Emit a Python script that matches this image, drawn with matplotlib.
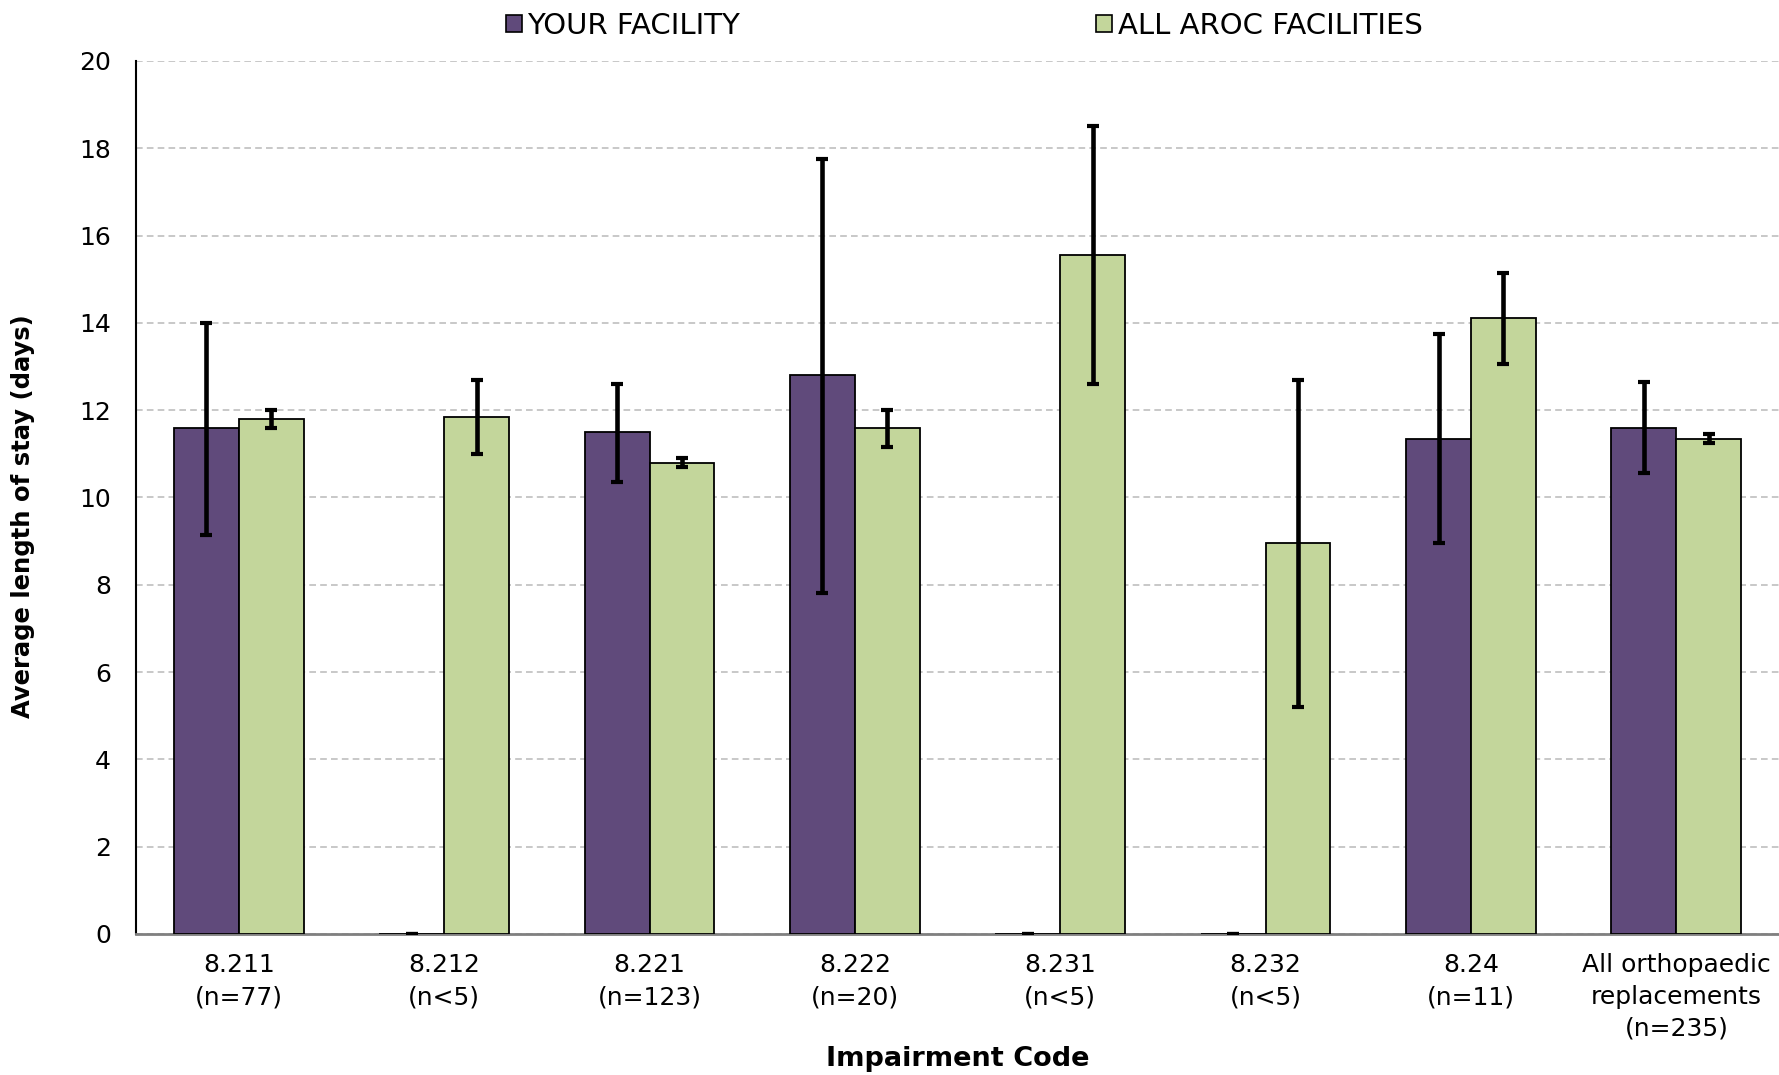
import numpy as np
import matplotlib
matplotlib.use('Agg')
import matplotlib.pyplot as plt
from matplotlib.patches import Patch

# ===== Data =====
categories = ['8.211\n(n=77)', '8.212\n(n<5)', '8.221\n(n=123)', '8.222\n(n=20)',
              '8.231\n(n<5)', '8.232\n(n<5)', '8.24\n(n=11)',
              'All orthopaedic\nreplacements\n(n=235)']

facility_mean = [11.6, 0.0, 11.5, 12.8, 0.0, 0.0, 11.35, 11.6]
facility_lo = [9.15, 0.0, 10.35, 7.8, 0.0, 0.0, 8.95, 10.55]
facility_hi = [14.0, 0.0, 12.6, 17.75, 0.0, 0.0, 13.75, 12.65]

aroc_mean = [11.8, 11.85, 10.8, 11.6, 15.55, 8.95, 14.1, 11.35]
aroc_lo = [11.6, 11.0, 10.7, 11.15, 12.6, 5.2, 13.05, 11.25]
aroc_hi = [12.0, 12.7, 10.9, 12.0, 18.5, 12.7, 15.15, 11.45]

C_FAC = '#604A7B'
C_AROC = '#C3D69B'
W = 0.316

FONT = ['DejaVu Sans']

fig = plt.figure(figsize=(17.79, 10.75), dpi=100)
ax = fig.add_axes([0.0765, 0.1312, 0.9235, 0.8121])

x = np.arange(len(categories))
fac = np.array(facility_mean)
aroc = np.array(aroc_mean)
fac_err = [fac - np.array(facility_lo), np.array(facility_hi) - fac]
aroc_err = [aroc - np.array(aroc_lo), np.array(aroc_hi) - aroc]

ax.bar(x - W / 2, fac, width=W, color=C_FAC, edgecolor='black', linewidth=1.3, zorder=3)
ax.bar(x + W / 2, aroc, width=W, color=C_AROC, edgecolor='black', linewidth=1.3, zorder=3)

ekw = dict(fmt='none', ecolor='black', elinewidth=3.3, capsize=4.3, capthick=3.0, zorder=4)
ax.errorbar(x - W / 2, fac, yerr=fac_err, **ekw)
ax.errorbar(x + W / 2, aroc, yerr=aroc_err, **ekw)

ax.set_xlim(-0.5, len(categories) - 0.5)
ax.set_ylim(0, 20)
ax.set_yticks(np.arange(0, 21, 2))
ax.set_xticks(x)
ax.set_xticklabels(categories, fontsize=18, family=FONT, linespacing=1.4)
for lbl in ax.get_yticklabels():
    lbl.set_fontsize(18)
    lbl.set_family(FONT)
ax.tick_params(axis='y', length=0, pad=18)
ax.tick_params(axis='x', length=0, pad=14)

ax.grid(True, axis='y', color='#BFBFBF', ls=(0, (4, 2.5)), lw=1.2, zorder=0)
ax.set_axisbelow(True)
for s in ['top', 'right']:
    ax.spines[s].set_visible(False)
ax.spines['left'].set_color('black')
ax.spines['left'].set_linewidth(1.5)
ax.spines['bottom'].set_color('#808080')
ax.spines['bottom'].set_linewidth(2)

ax.set_ylabel('Average length of stay (days)', fontsize=17.5, fontweight='bold', family=FONT)
ax.yaxis.set_label_coords(-0.0688, 0.479)
ax.yaxis.label.set_va('center')
ax.set_xlabel('Impairment Code', fontsize=19.5, fontweight='bold', family=FONT)
ax.xaxis.set_label_coords(0.5, -0.143)
ax.xaxis.label.set_va('center')

handles = [Patch(facecolor=C_FAC, edgecolor='black', lw=1.2, label='YOUR FACILITY'),
           Patch(facecolor=C_AROC, edgecolor='black', lw=1.2, label='ALL AROC FACILITIES')]
fig.legend(handles=handles, loc='center', bbox_to_anchor=(0.542, 0.976), ncol=2,
           frameon=False, prop={'family': FONT, 'size': 21},
           handlelength=0.55, handleheight=0.55, handletextpad=0.2, columnspacing=12.2,
           borderaxespad=0)

fig.savefig('out.png', dpi=100, facecolor='white')
